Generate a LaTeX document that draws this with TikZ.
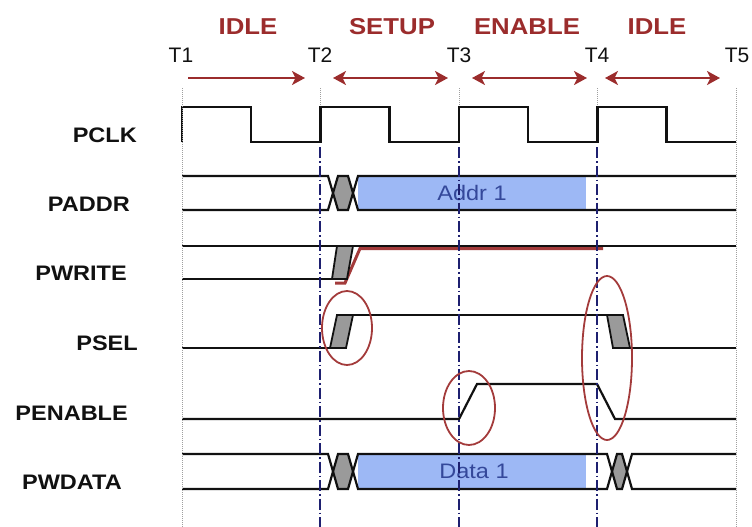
\documentclass[tikz,border=0pt]{standalone}
\usepackage{fontspec}
\setmainfont{Liberation Sans}
\newfontfamily\widesans[FakeStretch=1.12]{Liberation Sans}
\usetikzlibrary{positioning, arrows.meta, calc}
\definecolor{ink}{HTML}{111111}
\definecolor{phase}{HTML}{9B2C2C}
\definecolor{ring}{HTML}{A33B3B}
\definecolor{navy}{HTML}{1E2070}
\definecolor{busfill}{HTML}{9DB8F5}
\definecolor{bustext}{HTML}{34489A}
\definecolor{xfill}{HTML}{9A9A9A}
\tikzset{ptip/.tip={Stealth[length=13pt, width=14pt, inset=3.5pt]}}

\begin{document}
\begin{tikzpicture}[
  x=1pt, y=-1pt,
  sig/.style={line width=2.2pt, ink, line join=miter},
  xshade/.style={fill=xfill, draw=ink, line width=1.8pt},
  siglabel/.style={font=\fontsize{21}{21}\widesans\bfseries, ink, anchor=base east, inner sep=0pt},
  tlabel/.style={font=\fontsize{21}{21}\selectfont, ink, inner sep=0pt},
  phaselabel/.style={font=\fontsize{23}{23}\widesans\bfseries, phase, inner sep=0pt},
  phasearr/.style={line width=2.8pt, phase},
  guide/.style={gray!75, line width=1pt, dash pattern=on 1pt off 1pt},
  edge/.style={navy, line width=2pt, dash pattern=on 11pt off 3pt on 1.5pt off 3pt},
  hilite/.style={ring, line width=1.8pt},
  buslabel/.style={font=\fontsize{21}{21}\widesans, bustext, inner sep=0pt}
]
  \useasboundingbox (0,0) rectangle (752,527);

  % Time marks
  \coordinate (T1) at (182,78);
  \coordinate (T2) at (320,78);
  \coordinate (T3) at (459,78);
  \coordinate (T4) at (597,78);
  \coordinate (T5) at (736,78);

  \node[tlabel] (t1) at (181,55) {T1};
  \node[tlabel] (t2) at (320,55) {T2};
  \node[tlabel] (t3) at (459,55) {T3};
  \node[tlabel] (t4) at (597,55) {T4};
  \node[tlabel] (t5) at (737,55) {T5};

  % Phases
  \node[phaselabel] (idlea) at (248,27) {IDLE};
  \node[phaselabel] (setup) at (392,27) {SETUP};
  \node[phaselabel] (enable) at (527,27) {ENABLE};
  \node[phaselabel] (idleb) at (657,27) {IDLE};

  \draw[phasearr, -ptip] ($(T1)+(6,0)$) -- ($(T2)+(-15,0)$);
  \draw[phasearr, ptip-ptip] ($(T2)+(13,0)$) -- ($(T3)+(-11,0)$);
  \draw[phasearr, ptip-ptip] ($(T3)+(13,0)$) -- ($(T4)+(-10,0)$);
  \draw[phasearr, ptip-ptip] ($(T4)+(8,0)$) -- ($(T5)+(-16,0)$);

  % Signal names
  \node[siglabel] (pclk) at (137,142) {PCLK};
  \node[siglabel] (paddr) at (130,211) {PADDR};
  \node[siglabel] (pwrite) at (127,280) {PWRITE};
  \node[siglabel] (psel) at (138,350) {PSEL};
  \node[siglabel] (penable) at (128,420) {PENABLE};
  \node[siglabel] (pwdata) at (122,489) {PWDATA};

  % Bus fills
  \fill[busfill] (358,176) rectangle (586,210);
  \fill[busfill] (358,454) rectangle (586,489);
  \node[buslabel] (addr) at (472,193) {Addr 1};
  \node[buslabel] (data) at (474,471) {Data 1};

  % PCLK
  \draw[sig] (182,142) \foreach \i in {0,...,3} {
      -- ({182+138.5*\i},107) -- ({251+138.5*\i},107)
      -- ({251+138.5*\i},142) -- ({320.5+138.5*\i},142)};

  % PADDR
  \fill[xfill] (333,193) -- (338,176) -- (348,176) -- (353,193) -- (348,210) -- (338,210) -- cycle;
  \draw[sig] (182,176) -- (328,176) -- (338,210) -- (348,210) -- (358,176) -- (736,176);
  \draw[sig] (182,210) -- (328,210) -- (338,176) -- (348,176) -- (358,210) -- (736,210);

  % PWRITE
  \draw[ring, line width=3pt] (335,283) -- (345,283) -- (360,248.5) -- (603,248.5);
  \draw[sig] (182,246) -- (736,246);
  \draw[sig] (182,279) -- (332,279);
  \draw[xshade] (332,279) -- (337,246) -- (353,246) -- (347,279) -- cycle;

  % PSEL
  \draw[sig] (182,348) -- (330,348);
  \draw[xshade] (330,348) -- (337,315) -- (353,315) -- (346,348) -- cycle;
  \draw[sig] (337,315) -- (623,315);
  \draw[xshade] (607,315) -- (613,348) -- (630,348) -- (623,315) -- cycle;
  \draw[sig] (613,348) -- (736,348);

  % PENABLE
  \draw[sig] (182,419) -- (459,419) -- (477,384) -- (597,384) -- (615,419) -- (736,419);

  % PWDATA
  \fill[xfill] (333,471.5) -- (338,454) -- (348,454) -- (353,471.5) -- (348,489) -- (338,489) -- cycle;
  \fill[xfill] (612,471.5) -- (617,454) -- (622,454) -- (627,471.5) -- (622,489) -- (617,489) -- cycle;
  \draw[sig] (182,454) -- (328,454) -- (338,489) -- (348,489) -- (358,454)
      -- (607,454) -- (617,489) -- (622,489) -- (632,454) -- (736,454);
  \draw[sig] (182,489) -- (328,489) -- (338,454) -- (348,454) -- (358,489)
      -- (607,489) -- (617,454) -- (622,454) -- (632,489) -- (736,489);

  % Cycle boundaries
  \foreach \x in {182,736} \draw[guide] (\x,88) -- (\x,527);
  \foreach \x in {320,459,597} {
    \draw[guide] (\x,88) -- (\x,106);
    \draw[edge] (\x,147) -- (\x,527);
  }

  % Highlights
  \draw[hilite] (347,328) ellipse [x radius=25, y radius=37];
  \draw[hilite] (469,408) ellipse [x radius=26, y radius=37];
  \draw[hilite] (607,358) ellipse [x radius=25, y radius=82];
\end{tikzpicture}
\end{document}
